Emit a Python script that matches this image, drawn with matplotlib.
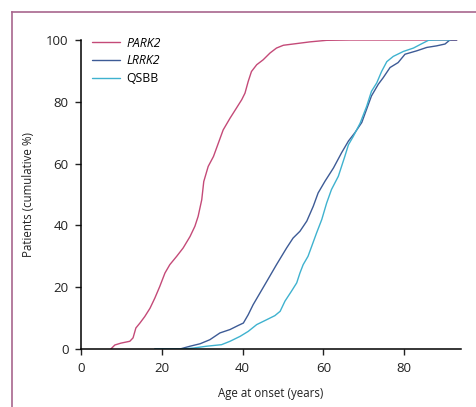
import numpy as np
import matplotlib.pyplot as plt
from matplotlib.lines import Line2D

plt.rcParams['font.family'] = ['Open Sans', 'DejaVu Sans']

# age at onset (years) vs cumulative %
park2_age = [7.4, 8.4, 9.9, 12.1, 12.9, 13.6, 14.6, 15.8, 17.1, 18.3, 19.5, 20.8, 22.0,
             23.7, 25.3, 27.0, 28.2, 29.0, 29.9, 30.4, 31.5, 32.8, 34.0, 35.2, 36.9,
             38.5, 39.8, 40.6, 41.4, 42.2, 43.5, 45.1, 46.8, 48.4, 50.1, 52.5, 56.7,
             60.8, 66.6, 93.0]
park2_pct = [0, 1.3, 1.9, 2.5, 3.6, 6.8, 8.4, 10.5, 13.2, 16.5, 20.2, 24.6, 27.3,
             30.0, 32.7, 36.4, 39.7, 42.9, 48.3, 54.2, 59.1, 62.3, 66.6, 70.9, 74.7,
             78.0, 80.7, 82.8, 86.6, 89.8, 92.0, 93.6, 95.8, 97.4, 98.3, 98.7, 99.4,
             99.9, 100, 100]

lrrk2_age = [18.3, 24.5, 27.0, 29.5, 31.9, 34.4, 36.9, 38.9, 40.2, 41.4, 42.6, 44.3,
             46.0, 48.4, 50.9, 52.5, 54.2, 55.9, 57.5, 58.7, 60.4, 62.5, 64.5, 66.2,
             67.8, 69.5, 70.7, 71.9, 73.6, 74.8, 76.5, 78.5, 80.2, 83.1, 85.6, 88.0,
             90.1, 91.3, 93.0]
lrrk2_pct = [0, 0, 0.9, 1.7, 3.0, 5.2, 6.3, 7.6, 8.4, 11.1, 14.3, 18.1,
             21.9, 27.3, 32.7, 35.9, 38.1, 41.4, 46.2, 50.5, 54.3, 58.6, 63.5, 67.3,
             70.0, 73.3, 77.6, 81.9, 85.7, 87.8, 91.1, 92.7, 95.4, 96.5, 97.6, 98.1,
             98.7, 100, 100]

qsbb_age = [18.3, 24.7, 27.8, 31.1, 34.8, 36.9, 39.4, 41.4, 43.5, 46.0, 48.0, 49.3,
            50.5, 52.1, 53.4, 54.2, 55.0, 56.2, 57.1, 58.3, 59.6, 60.8, 62.0, 63.7,
            64.5, 65.3, 66.2, 67.4, 69.1, 70.7, 71.9, 73.2, 74.4, 75.7, 77.3, 79.8,
            82.3, 83.9, 86.0, 88.0, 91.3]
qsbb_pct = [0, 0, 0.3, 0.9, 1.4, 2.5, 4.1, 5.7, 7.9, 9.5, 10.8, 12.2,
            15.5, 18.7, 21.4, 24.6, 27.3, 30.0, 33.2, 37.5, 41.9, 47.2, 51.6, 55.9,
            59.1, 62.3, 66.1, 68.8, 73.1, 78.5, 83.4, 86.1, 89.8, 93.0, 94.7, 96.3,
            97.4, 98.5, 99.9, 100, 100]

x_ticks = [0, 20, 40, 60, 80]
y_ticks = [0, 20, 40, 60, 80, 100]

fig = plt.figure(figsize=(4.76, 4.07), dpi=100)
ax = fig.add_axes([0.170, 0.1425, 0.798, 0.7592])

kw = dict(lw=1.0, solid_joinstyle='round', solid_capstyle='round')
ax.plot(park2_age, park2_pct, color='#c44a78', label='PARK2', **kw)
ax.plot(lrrk2_age, lrrk2_pct, color='#3d5b96', label='LRRK2', **kw)
ax.plot(qsbb_age, qsbb_pct, color='#3fb2cf', label='QSBB', **kw)

ax.set_xlim(0, 94)
ax.set_ylim(0, 100)
ax.set_xticks(x_ticks)
ax.set_yticks(y_ticks)
ax.tick_params(direction='out', length=4, width=1, pad=5, labelsize=9.5, colors='#222222')
for s in ['top', 'right']:
    ax.spines[s].set_visible(False)
for s in ['left', 'bottom']:
    ax.spines[s].set_linewidth(1.1)
ax.set_xlabel('Age at onset (years)', fontsize=8.3, labelpad=9, color='#222222')
ax.set_ylabel('Patients (cumulative %)', fontsize=8.3, labelpad=8, color='#222222')

leg = ax.legend(loc='upper left', frameon=False, fontsize=8.8, handlelength=2.3,
                handletextpad=0.5, labelspacing=0.38, borderaxespad=0.2,
                bbox_to_anchor=(0.01, 1.035))
for t in leg.get_texts()[:2]:
    t.set_fontstyle('italic')

# mauve frame round the panel (left and top edges visible)
fw, fh = 476, 407
fig.add_artist(Line2D([11.5 / fw, 11.5 / fw], [0, 1 - 11.5 / fh], color='#a8668e', lw=1.2))
fig.add_artist(Line2D([11.5 / fw, 1], [1 - 11.5 / fh, 1 - 11.5 / fh], color='#a8668e', lw=1.2))

fig.savefig('out.png', dpi=100)
